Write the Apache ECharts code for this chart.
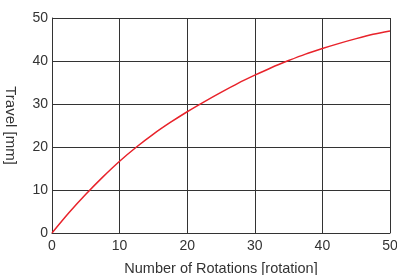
<!DOCTYPE html>
<html>
<head>
<meta charset="utf-8">
<script src="https://cdn.jsdelivr.net/npm/echarts@6/dist/echarts.min.js"></script>
<style>
  html, body { margin: 0; padding: 0; background: #fff; }
  #chart { width: 397px; height: 275px; }
</style>
</head>
<body>
<div id="chart"></div>
<script>
// rotations vs travel
var rotations = [0, 2.5, 5, 7.5, 10, 12.5, 15, 17.5, 20, 22.5, 25, 27.5, 30, 32.5, 35, 37.5, 40, 42.5, 45, 47.5, 50];
var travel = [0, 4.7, 9.0, 13.0, 16.7, 20.0, 23.0, 25.7, 28.2, 30.5, 32.7, 34.8, 36.7, 38.5, 40.1, 41.6, 42.9, 44.1, 45.2, 46.2, 47.0];

var points = [];
for (var i = 0; i < rotations.length; i++) {
    points.push([rotations[i], travel[i]]);
}

var font = 'Liberation Sans, Arial, sans-serif';
var gridLine = { show: true, lineStyle: { color: '#333', width: 1 } };

var chart = echarts.init(document.getElementById('chart'));
chart.setOption({
    animation: false,
    grid: { left: 52, top: 18, right: 7, bottom: 42, outerBoundsMode: 'none', containLabel: false },
    xAxis: {
        type: 'value',
        min: 0, max: 50, interval: 10,
        name: 'Number of Rotations [rotation]',
        nameLocation: 'middle',
        nameGap: 28,
        nameTextStyle: { color: '#333', fontSize: 14.5, fontFamily: font },
        axisLine: { show: true, lineStyle: { color: '#333', width: 1 } },
        axisTick: { show: false },
        axisLabel: { color: '#333', fontSize: 14, margin: 6, fontFamily: font },
        splitLine: gridLine
    },
    yAxis: {
        type: 'value',
        min: 0, max: 50, interval: 10,
        name: 'Travel [mm]',
        nameLocation: 'middle',
        nameRotate: -90,
        nameGap: 34,
        nameTextStyle: { color: '#333', fontSize: 15, fontFamily: font },
        axisLine: { show: true, lineStyle: { color: '#333', width: 1 } },
        axisTick: { show: false },
        axisLabel: { color: '#333', fontSize: 14, margin: 4, fontFamily: font },
        splitLine: gridLine
    },
    series: [{
        type: 'line',
        data: points,
        smooth: 0.3,
        showSymbol: false,
        lineStyle: { color: '#e8232b', width: 1.5 }
    }]
});
</script>
</body>
</html>
